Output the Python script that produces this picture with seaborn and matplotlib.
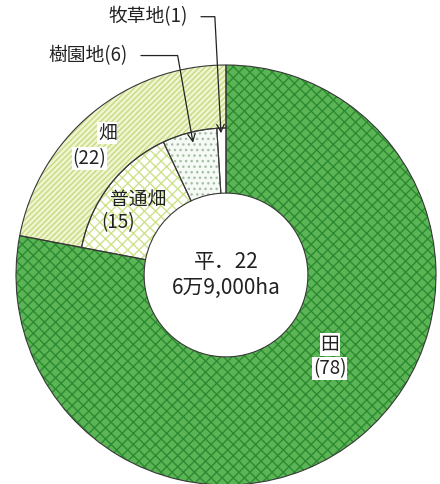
import matplotlib
matplotlib.use("Agg")
import matplotlib.pyplot as plt
import seaborn as sns
from matplotlib.patches import Wedge

sns.set_theme(style="white")
plt.rcParams['font.family'] = ['Noto Sans CJK JP', 'DejaVu Sans']

# data (%)
land_labels = ['田', '畑']
land_values = [78, 22]
field_labels = ['普通畑', '樹園地', '牧草地']
field_values = [15, 6, 1]
center_text = '平．22\n6万9,000ha'

fig = plt.figure(figsize=(4.4, 4.84), dpi=100)
ax = fig.add_axes([0, 0, 1, 1])

outer_faces = ['#5cb554', '#eff5cf']
outer_hatch = ['xxx', '//////']
outer_hcol = ['#2c8a33', '#c6da84']

inner_faces = ['none', '#ffffff', '#f5faf5', '#ffffff']
inner_hatch = [None, 'xxx', '...', None]
inner_hcol = ['none', '#cde38a', '#a7bda7', '#ffffff']

r_hole = 0.39
r_mid = 0.70

outer, _ = ax.pie(land_values, radius=1.0, startangle=90, counterclock=False,
                  wedgeprops=dict(width=1.0 - r_mid))
inner, _ = ax.pie([land_values[0]] + field_values, radius=r_mid, startangle=90,
                  counterclock=False, wedgeprops=dict(width=r_mid - r_hole))

# paddy field spans the whole ring
outer[0].set_width(1.0 - r_hole)
inner[0].set_visible(False)

def style(wedges, faces, hatches, hcols):
    for w, fc, h, hc in zip(wedges, faces, hatches, hcols):
        w.set_facecolor(fc)
        w.set_edgecolor(hc)
        w.set_linewidth(0)
        if h:
            w.set_hatch(h)
        if w.get_visible():
            ax.add_patch(Wedge(w.center, w.r, w.theta1, w.theta2, width=w.width,
                               fill=False, edgecolor='#383838', lw=0.8, zorder=3))

style(outer, outer_faces, outer_hatch, outer_hcol)
style(inner, inner_faces, inner_hatch, inner_hcol)

ax.set_xlim(-226 / 210, 214 / 210)
ax.set_ylim(-209 / 210, 275 / 210)
ax.set_aspect('auto')
ax.axis('off')

fs = 13.5
tc = '#222222'
box = dict(facecolor='white', edgecolor='none', pad=0.6)
ax.text(0, 0.0, center_text, ha='center', va='center', fontsize=15,
        linespacing=1.2, color=tc)
ax.text(0.495, -0.33, land_labels[0], ha='center', va='center', fontsize=fs, bbox=box, color=tc)
ax.text(0.495, -0.445, f'({land_values[0]})', ha='center', va='center', fontsize=fs, bbox=box, color=tc)
ax.text(-0.565, 0.675, land_labels[1], ha='center', va='center', fontsize=fs, bbox=box, color=tc)
ax.text(-0.65, 0.555, f'({land_values[1]})', ha='center', va='center', fontsize=fs, bbox=box, color=tc)
ax.text(-0.42, 0.36, field_labels[0], ha='center', va='center', fontsize=fs, color=tc)
ax.text(-0.515, 0.25, f'({field_values[0]})', ha='center', va='center', fontsize=fs, color=tc)

arrow = dict(arrowstyle='->', color='#222222', lw=0.9, shrinkA=7, shrinkB=0,
             connectionstyle='angle,angleA=0,angleB=100,rad=0')
ax.annotate(f'{field_labels[1]}({field_values[1]})', xy=(-0.157, 0.63),
            xytext=(-0.467, 1.045), ha='right', va='center', fontsize=fs,
            color=tc, arrowprops=arrow)
arrow2 = dict(arrow, connectionstyle='angle,angleA=0,angleB=93,rad=0')
ax.annotate(f'{field_labels[2]}({field_values[2]})', xy=(-0.024, 0.675),
            xytext=(-0.181, 1.23), ha='right', va='center', fontsize=fs,
            color=tc, arrowprops=arrow2)

fig.savefig('out.png', dpi=100)
